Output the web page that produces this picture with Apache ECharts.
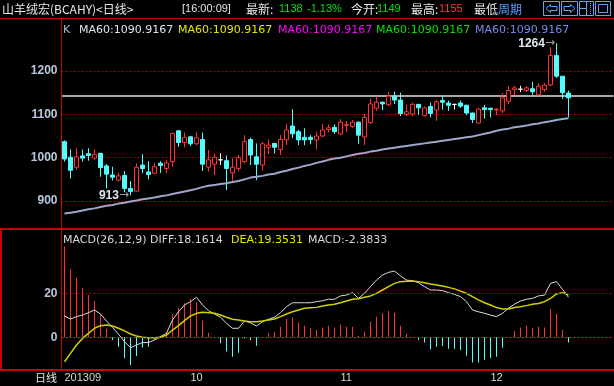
<!DOCTYPE html>
<html><head><meta charset="utf-8">
<script src="https://cdn.jsdelivr.net/npm/echarts@6/dist/echarts.min.js"></script>
<style>html,body{margin:0;padding:0;background:#000;}#c{width:614px;height:386px;}</style>
</head><body><div id="c"></div>
<script>
const candleOpen = [1037,1001,978,1004,1009,999,1010,981,960,948,
 959,929,923,983,967,964,987,975,991,1062,
 1035,1048,1032,1042,978,985,995,993,965,975,
 991,1042,1002,983,1024,1033,1019,1041,1073,1060,
 1047,1047,1041,1050,1065,1070,1055,1074,1072,1082,
 1048,1081,1114,1128,1122,1142,1133,1100,1101,1123,
 1097,1118,1110,1132,1126,1123,1126,1121,1103,1080,
 1115,1114,1110,1108,1130,1157,1158,1155,1159,1145,
 1157,1168,1236,1188,1149];
const candleClose = [997,971,1002,999,1005,1008,977,962,955,958,
 929,922,978,975,961,979,982,988,1056,1035,
 1047,1032,1046,985,995,1001,995,975,978,1000,
 1037,1006,985,1032,1029,1024,1042,1064,1055,1041,
 1041,1042,1050,1064,1069,1060,1082,1076,1082,1052,
 1093,1124,1128,1124,1142,1133,1102,1106,1123,1115,
 1115,1102,1129,1128,1121,1123,1119,1103,1088,1112,
 1111,1111,1112,1138,1155,1161,1158,1161,1152,1165,
 1167,1236,1188,1150,1138];
const candleLow = [991,952,972,991,993,995,956,929,947,945,
 920,913,922,964,950,962,965,964,979,1025,
 1024,1027,1029,969,968,960,983,925,947,969,
 987,983,948,970,1008,1010,1006,1029,1045,1029,
 1029,1031,1019,1047,1058,1055,1052,1060,1069,1032,
 1029,1078,1108,1110,1119,1124,1096,1096,1095,1099,
 1095,1093,1085,1111,1108,1111,1115,1098,1080,1078,
 1090,1093,1098,1103,1124,1145,1151,1152,1145,1144,
 1152,1165,1184,1136,1093];
const candleHigh = [1040,1019,1022,1019,1022,1019,1010,985,979,965,
 969,946,987,1008,992,988,992,995,1058,1064,
 1058,1050,1059,1058,1018,1010,1010,1005,999,1006,
 1052,1046,1033,1037,1042,1034,1052,1078,1112,1064,
 1068,1052,1060,1078,1077,1077,1089,1085,1087,1083,
 1101,1137,1142,1130,1152,1152,1150,1123,1127,1124,
 1118,1127,1133,1142,1132,1124,1132,1122,1104,1115,
 1122,1115,1115,1149,1165,1166,1166,1165,1175,1172,
 1172,1255,1264,1188,1155];
const ma60 = [871,873,875,878,881,883,886,889,891,894,
 896,899,901,904,906,908,911,913,916,919,
 922,925,928,932,935,937,939,941,944,946,
 950,954,956,958,961,963,967,970,974,977,
 981,984,988,991,995,998,1000,1003,1006,1009,
 1011,1014,1016,1019,1021,1023,1025,1027,1029,1031,
 1033,1035,1037,1039,1041,1043,1045,1047,1049,1052,
 1055,1058,1062,1065,1067,1070,1072,1074,1077,1079,
 1082,1084,1087,1089,1090.9167];
const diffLine = [9.7,8.3,9.4,10.1,11.2,12.4,10.6,7.4,4.5,1.4,
 -2.0,-4.7,-3.5,-2.4,-2.4,-1.2,0.3,1.8,7.9,11.6,
 14.7,16.2,18.2,14.7,12.1,10.6,9.1,6.4,4.1,4.1,
 7.4,6.6,5.1,7.1,8.2,9.1,11.2,13.9,15.7,15.7,
 15.7,15.7,16.2,16.6,17.3,17.3,18.8,19.2,20.3,17.7,
 20.0,23.0,26.0,28.3,29.5,30.1,27.9,26.0,25.7,24.8,
 23.0,21.5,21.5,21.2,20.3,19.5,18.5,16.2,12.4,11.6,
 10.9,10.1,9.4,10.9,13.2,15.1,16.5,17.3,17.7,18.8,
 19.2,24.5,25.3,21.8,18.1614];
const deaLine = [-11.1,-7.3,-3.5,-0.5,1.8,4.1,5.3,5.6,5.1,4.1,
 2.9,1.5,0.6,0.0,-0.2,-0.2,0.0,1.0,3.3,5.3,
 7.6,9.7,10.9,11.4,11.2,10.9,10.1,9.1,8.2,7.9,
 7.4,7.1,7.1,7.4,7.9,8.3,9.4,10.6,11.6,12.4,
 13.2,13.4,13.6,14.2,14.7,15.0,15.7,16.5,17.3,17.5,
 18.2,18.8,20.0,21.5,23.0,24.5,25.3,25.5,25.6,25.3,
 24.8,24.2,23.8,23.3,22.7,22.0,21.0,20.0,18.5,17.0,
 15.7,14.7,13.5,12.9,12.9,13.5,13.9,14.4,15.0,15.4,
 16.2,17.7,19.7,20.3,19.3531];
const macdBars = [41.3,30.8,27.1,22.5,19.2,16.5,10.5,3.9,-1.2,-4.3,
 -9.5,-12.7,-8.5,-4.6,-4.3,-1.0,0.3,2.5,10.5,13.5,
 15.5,17.4,15.9,7.6,2.1,-0.3,-2.7,-6.5,-8.8,-7.0,
 -0.5,-1.2,-3.8,0.1,1.8,2.5,4.8,8.3,9.0,6.8,
 5.2,4.2,3.4,4.4,5.3,4.4,5.8,4.8,4.8,0.7,
 2.5,7.1,9.3,10.8,12.1,11.2,5.3,1.5,0.2,-1.1,
 -2.4,-5.6,-4.3,-3.9,-5.2,-5.2,-5.8,-8.4,-11.5,-11.5,
 -10.2,-9.4,-8.8,-4.7,0.1,2.9,4.4,5.3,4.1,4.8,
 4.4,12.9,10.6,3.3,-2.3833];
const priceTicks = [900, 1000, 1100, 1200];
const macdTicks = [0, 20];
const monthTickIndex = [0, 21, 46, 71];
const monthTickText = ['201309', '10', '11', '12'];
const refPriceLine = 1143;
const slotCount = 92;

const RED = '#ff3232', CYAN = '#54fcfc', FRAME = '#cc0000';
const cats = Array.from({length: slotCount}, (_, i) => String(i));
const monthLabelAt = {};
monthTickIndex.forEach((idx, k) => { monthLabelAt[idx] = monthTickText[k]; });

const kData = candleOpen.map((o, i) => {
  const item = {value: [o, candleClose[i], candleLow[i], candleHigh[i]]};
  if (o === candleClose[i]) item.itemStyle = {color: '#fff', color0: '#fff', borderColor: '#fff', borderColor0: '#fff'};
  return item;
});
let hiIdx = 0, loIdx = 0;
candleHigh.forEach((v, i) => { if (v > candleHigh[hiIdx]) hiIdx = i; });
candleLow.forEach((v, i) => { if (v < candleLow[loIdx]) loIdx = i; });

const chart = echarts.init(document.getElementById('c'));
const CJK = '12px "Noto Sans CJK SC"';
const NUM = '11px "Liberation Sans"';
const LEG = '11px "DejaVu Sans"';
const g = [];
function txt(x, y, text, fill, font) {
  g.push({type: 'text', x: x, y: y, silent: true, z: 100, style: {text: text, fill: fill, font: font, align: 'left', verticalAlign: 'middle'}});
}
function ln(x1, y1, x2, y2, stroke, w) {
  g.push({type: 'line', silent: true, z: 90, shape: {x1, y1, x2, y2}, style: {stroke: stroke, lineWidth: w}});
}
// frame
ln(0, 18.5, 614, 18.5, FRAME, 1);
ln(61.5, 19, 61.5, 370, FRAME, 1);
ln(0, 229, 614, 229, FRAME, 2);
ln(0, 370, 614, 370, FRAME, 2);
ln(1, 229, 1, 370, FRAME, 2);
// header
txt(2, 9, '山羊绒宏(BCAHY)<日线>', '#e6e6e6', CJK);
txt(182, 9, '[16:00:09]', '#e6e6e6', NUM);
txt(246, 9, '最新:', '#e6e6e6', CJK);
txt(279, 9, '1138', '#00e600', NUM);
txt(307, 9, '-1.13%', '#00e600', NUM);
txt(351, 9, '今开:', '#e6e6e6', CJK);
txt(377, 9, '1149', '#00e600', NUM);
txt(411, 9, '最高:', '#e6e6e6', CJK);
txt(439, 9, '1155', '#ff3232', NUM);
txt(474, 9, '最低', '#e6e6e6', CJK);
g.push({type: 'rect', silent: true, z: 95, shape: {x: 497, y: 1, width: 27, height: 16}, style: {fill: '#000'}});
txt(498, 9, '周期', '#5a9cff', CJK);
ln(498, 16.5, 522, 16.5, '#5a9cff', 1);
// icons
const IC = '#6aa6e6';
[[543.5, 16], [561.5, 16], [579.5, 14], [595.5, 15]].forEach(([x, w]) => {
  g.push({type: 'rect', silent: true, z: 100, shape: {x: x, y: 1.5, width: w, height: 14}, style: {fill: 'none', stroke: IC, lineWidth: 1}});
});
g.push({type: 'polygon', silent: true, z: 100, shape: {points: [[546, 8.5], [550.5, 4.5], [550.5, 6.5], [557, 6.5], [557, 10.5], [550.5, 10.5], [550.5, 12.5]]}, style: {fill: 'none', stroke: IC, lineWidth: 1}});
g.push({type: 'polygon', silent: true, z: 100, shape: {points: [[575, 8.5], [570.5, 4.5], [570.5, 6.5], [564, 6.5], [564, 10.5], [570.5, 10.5], [570.5, 12.5]]}, style: {fill: 'none', stroke: IC, lineWidth: 1}});
ln(586.5, 2, 586.5, 15, IC, 1);
ln(579.5, 8.5, 586.5, 8.5, IC, 1);
g.push({type: 'line', silent: true, z: 100, shape: {x1: 590.5, y1: 3, x2: 590.5, y2: 14}, style: {stroke: IC, lineWidth: 1, lineDash: [1, 1]}});
g.push({type: 'rect', silent: true, z: 100, shape: {x: 598.5, y: 4.5, width: 9, height: 8}, style: {fill: 'none', stroke: IC, lineWidth: 1}});
// legends
txt(63, 30, 'K', '#a8b8d0', LEG);
txt(79, 30, 'MA60:1090.9167', '#dce4f4', LEG);
txt(178, 30, 'MA60:1090.9167', '#e6e600', LEG);
txt(278, 30, 'MA60:1090.9167', '#ff00ff', LEG);
txt(376, 30, 'MA60:1090.9167', '#00e000', LEG);
txt(475, 30, 'MA60:1090.9167', '#7888e8', LEG);
txt(63, 240, 'MACD(26,12,9) DIFF:18.1614', '#d8d8d8', LEG);
txt(231, 240, 'DEA:19.3531', '#e6e600', LEG);
txt(308, 240, 'MACD:-2.3833', '#d8d8d8', LEG);
txt(35, 378, '日线', '#e6e6e6', '11px "Noto Sans CJK SC"');

const axisLabelStyle = {color: '#b8c8dc', fontWeight: 'bold', fontSize: 12, fontFamily: 'Liberation Sans', margin: 4, formatter: v => String(v)};
const dotted = (vals, color) => vals.map(v => ({yAxis: v, lineStyle: {type: [2, 2], color: color, width: 1}}));
const annot = (txtv) => ({
  show: true, position: 'left', distance: 1,
  formatter: '{n|' + txtv + '}{a|→}',
  rich: {n: {color: '#dfe6f2', fontWeight: 'bold', fontSize: 12, fontFamily: 'Liberation Sans'},
         a: {color: '#a0a0a0', fontSize: 12, fontFamily: 'DejaVu Sans'}}
});

chart.setOption({
  backgroundColor: '#000',
  animation: false,
  grid: [
    {left: 61.5, top: 20, width: 552, height: 208},
    {left: 61.5, top: 230, width: 552, height: 139}
  ],
  xAxis: [
    {type: 'category', gridIndex: 0, data: cats, boundaryGap: true, axisLine: {show: false}, axisTick: {show: false}, axisLabel: {show: false}, splitLine: {show: false}},
    {type: 'category', gridIndex: 1, data: cats, boundaryGap: true, axisLine: {show: false}, axisTick: {show: false}, splitLine: {show: false},
     axisLabel: {show: true, interval: 0, align: 'left', margin: 3, color: '#d8d8d8', fontSize: 11, fontFamily: 'Liberation Sans',
       formatter: (v, idx) => monthLabelAt[idx] || ''}}
  ],
  yAxis: [
    {type: 'value', gridIndex: 0, min: 837.7, max: 1317.7, axisLine: {show: false}, axisTick: {show: false}, splitLine: {show: false},
     axisLabel: Object.assign({customValues: priceTicks}, axisLabelStyle)},
    {type: 'value', gridIndex: 1, min: -14.41, max: 48.77, axisLine: {show: false}, axisTick: {show: false}, splitLine: {show: false},
     axisLabel: Object.assign({customValues: macdTicks}, axisLabelStyle)}
  ],
  graphic: g,
  series: [
    {type: 'candlestick', xAxisIndex: 0, yAxisIndex: 0, data: kData, barWidth: 4,
     itemStyle: {color: '#000', color0: CYAN, borderColor: RED, borderColor0: CYAN, borderWidth: 1},
     markLine: {silent: true, symbol: 'none', label: {show: false}, z: 1,
       data: dotted(priceTicks, '#b00000').concat([{yAxis: refPriceLine, lineStyle: {type: 'solid', color: '#a8a8a8', width: 2}}])},
     markPoint: {silent: true, symbol: 'circle', symbolSize: 1, itemStyle: {color: 'rgba(0,0,0,0)'},
       data: [
         {coord: [hiIdx, candleHigh[hiIdx]], label: annot(String(candleHigh[hiIdx]))},
         {coord: [loIdx, candleLow[loIdx]], label: annot(String(candleLow[loIdx]))}
       ]}},
    {type: 'line', xAxisIndex: 0, yAxisIndex: 0, data: ma60, symbol: 'none', lineStyle: {color: '#a0a6c8', width: 2}, z: 3},
    {type: 'bar', xAxisIndex: 1, yAxisIndex: 1, data: macdBars, barWidth: 1,
     itemStyle: {color: p => p.value >= 0 ? RED : CYAN},
     markLine: {silent: true, symbol: 'none', label: {show: false},
       data: [{yAxis: 0, lineStyle: {type: [2, 2], color: '#ff2020', width: 1}}, {yAxis: 20, lineStyle: {type: [2, 2], color: '#b00000', width: 1}}]}},
    {type: 'line', xAxisIndex: 1, yAxisIndex: 1, data: diffLine, symbol: 'none', lineStyle: {color: '#dcdcdc', width: 1}, z: 4},
    {type: 'line', xAxisIndex: 1, yAxisIndex: 1, data: deaLine, symbol: 'none', lineStyle: {color: '#d0d000', width: 1.5}, z: 4}
  ]
});
</script></body></html>
